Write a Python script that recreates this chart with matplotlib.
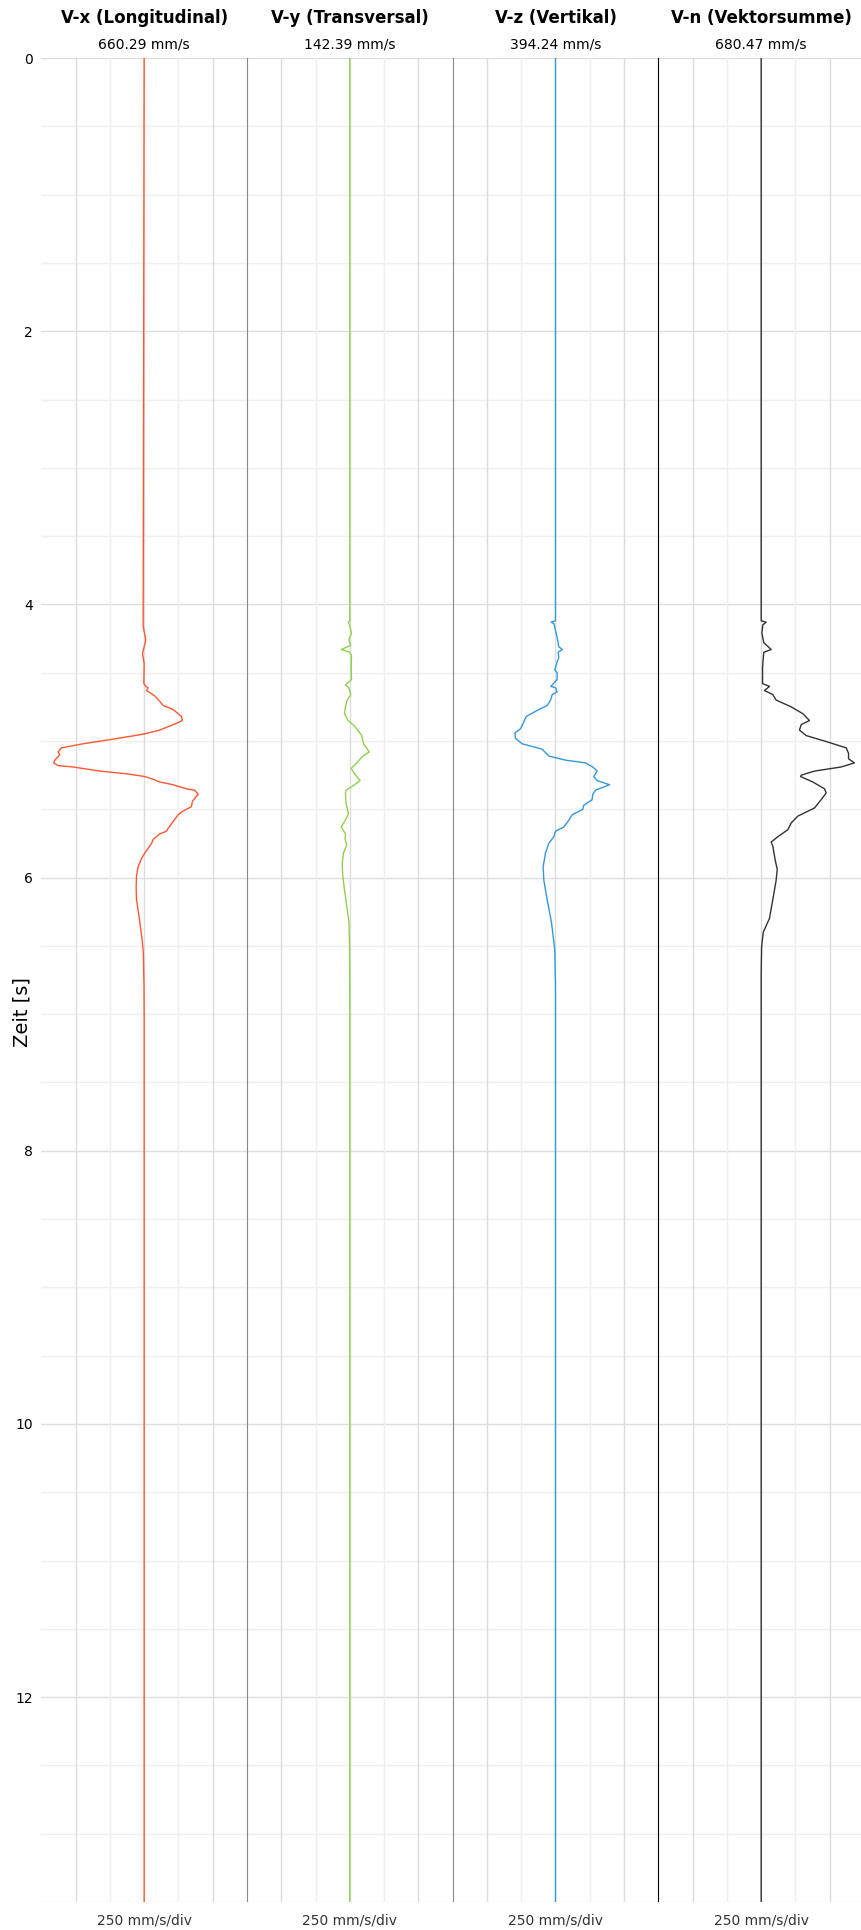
import matplotlib
matplotlib.use("Agg")
import matplotlib.pyplot as plt
import matplotlib.transforms as mtransforms
import numpy as np

# channel names, peak values and colours
titles = ["V-x (Longitudinal)", "V-y (Transversal)", "V-z (Vertikal)", "V-n (Vektorsumme)"]
peaks = ["660.29 mm/s", "142.39 mm/s", "394.24 mm/s", "680.47 mm/s"]
scale_labels = ["250 mm/s/div"] * 4
colors = ["#ff5733", "#8fd14f", "#3498db", "#333333"]

# traces (time [s], velocity [mm/s])
t_x = [0, 4.16, 4.26, 4.36, 4.43, 4.58, 4.60, 4.61, 4.63, 4.67, 4.71, 4.74, 4.77, 4.82, 4.85, 4.87,
       4.92, 4.95, 4.99, 5.02, 5.05, 5.08, 5.10, 5.14, 5.16, 5.18, 5.19, 5.22, 5.24, 5.26, 5.28, 5.30,
       5.32, 5.35, 5.36, 5.39, 5.42, 5.44, 5.48, 5.52, 5.54, 5.59, 5.64, 5.66, 5.68, 5.72, 5.75, 5.82,
       5.86, 5.92, 5.99, 6.07, 6.16, 6.30, 6.45, 6.55, 6.80, 7.00, 13.5]
v_x = [0, -7, 12, -12, 0, -2, 12, 29, 17, 78, 114, 139, 212, 272, 279, 236,
       114, -7, -250, -445, -603, -627, -615, -651, -660, -627, -518, -323, -128, 5, 66, 114,
       211, 309, 369, 394, 369, 352, 345, 272, 248, 211, 175, 163, 114, 66, 54, 5,
       -19, -44, -56, -58, -56, -35, -15, -6, -1, 0, 0]

t_y = [0, 4.12, 4.13, 4.15, 4.21, 4.26, 4.30, 4.33, 4.35, 4.37, 4.46, 4.55, 4.59, 4.61, 4.66, 4.70,
       4.75, 4.80, 4.85, 4.89, 4.96, 5.02, 5.08, 5.11, 5.16, 5.20, 5.24, 5.29, 5.32, 5.36, 5.38, 5.46,
       5.53, 5.57, 5.63, 5.68, 5.72, 5.76, 5.82, 5.90, 5.99, 6.09, 6.16, 6.33, 6.50, 6.70, 7.00, 13.5]
v_y = [0, 0, -12, -2, 12, -7, 7, -63, -2, 12, 10, 12, -32, -7, 7, -19,
       -32, -39, -12, 34, 87, 100, 142, 95, 51, 10, 34, 75, 34, -27, -32, -27,
       -10, -27, -63, -32, -34, -22, -46, -56, -51, -39, -29, -6, -2, -1, 0, 0]

t_z = [0, 4.12, 4.13, 4.14, 4.19, 4.24, 4.31, 4.33, 4.35, 4.39, 4.42, 4.48, 4.50, 4.55, 4.60, 4.61,
       4.64, 4.66, 4.70, 4.74, 4.77, 4.82, 4.86, 4.91, 4.94, 4.98, 5.02, 5.06, 5.09, 5.11, 5.14, 5.16,
       5.19, 5.22, 5.26, 5.29, 5.32, 5.36, 5.39, 5.43, 5.47, 5.50, 5.54, 5.58, 5.63, 5.66, 5.70, 5.75,
       5.82, 5.92, 6.02, 6.16, 6.33, 6.53, 6.80, 13.5]
v_z = [0, 0, -32, -12, 0, 12, 24, 49, 19, 24, 12, -5, 12, 12, -34, 0,
       12, -24, -36, -61, -122, -214, -231, -255, -296, -292, -243, -97, -68, -49, 73, 219,
       272, 304, 279, 304, 394, 292, 272, 267, 206, 199, 122, 97, 61, 0, -12, -49,
       -73, -90, -85, -61, -29, -5, 0, 0]

t_n = [0, 4.12, 4.13, 4.15, 4.21, 4.28, 4.33, 4.35, 4.46, 4.58, 4.60, 4.63, 4.66, 4.70, 4.75, 4.80,
       4.85, 4.88, 4.92, 4.96, 5.00, 5.05, 5.09, 5.13, 5.16, 5.19, 5.22, 5.25, 5.26, 5.30, 5.35, 5.38,
       5.43, 5.49, 5.55, 5.60, 5.65, 5.70, 5.74, 5.77, 5.87, 5.94, 6.02, 6.09, 6.16, 6.30, 6.40, 6.51,
       6.70, 13.5]
v_n = [0, 0, 36, 12, 5, 19, 73, 19, 10, 10, 61, 24, 85, 109, 219, 304,
       352, 292, 279, 328, 462, 620, 637, 637, 680, 583, 389, 292, 287, 377, 462, 474,
       437, 389, 267, 219, 194, 122, 73, 85, 102, 117, 109, 97, 85, 60, 15, 3,
       0, 0]

times = [t_x, t_y, t_z, t_n]
values = [v_x, v_y, v_z, v_n]

div = 250.0      # mm/s per division
lane = 6         # divisions per channel
t_max = 13.5

fig = plt.figure(figsize=(8.62, 19.3), dpi=100)
ax = fig.add_axes([41.3 / 862, 1 - 1902 / 1930, 1 - 41.3 / 862, (1902 - 58.1) / 1930])

# grid
for t in np.arange(0, t_max + 0.01, 0.5):
    major = abs(t % 2) < 1e-6
    ax.axhline(t, color="#dddddd" if major else "#efefef", lw=1.0, zorder=0)
x_right = (862 - 41.3) / 34.28
for xg in range(1, 24):
    if xg % lane == 0:
        continue
    ax.axvline(xg, color="#dcdcdc" if xg % 2 == 1 else "#efefef", lw=1.0, zorder=0)

# lane separators
ax.axvline(6, color="#888888", lw=0.8, zorder=1)
ax.axvline(12, color="#888888", lw=0.8, zorder=1)
ax.axvline(18, color="#000000", lw=0.8, zorder=1)

trans = mtransforms.blended_transform_factory(ax.transData, fig.transFigure)
for i in range(4):
    center = i * lane + lane / 2
    ax.plot(center + np.array(values[i]) / div, times[i], color=colors[i], lw=1.0,
            solid_joinstyle="round", zorder=3)
    ax.text(center, 1 - 18 / 1930, titles[i], transform=trans, ha="center", va="center",
            fontsize=12, fontweight="bold")
    ax.text(center, 1 - 45 / 1930, peaks[i], transform=trans, ha="center", va="center",
            fontsize=10)
    ax.text(center, 1 - 1921 / 1930, scale_labels[i], transform=trans, ha="center", va="center",
            fontsize=10, color="#333333")

ax.set_xlim(0, x_right)
ax.set_ylim(t_max, 0)
ax.set_yticks(np.arange(0, 13, 2))
ax.set_yticklabels([str(v) for v in range(0, 13, 2)])
ax.set_xticks([])
ax.tick_params(axis="y", length=0, pad=6, labelsize=10)
for s in ax.spines.values():
    s.set_visible(False)

fig.text(21.7 / 862, 1 - 1012 / 1930, "Zeit [s]", rotation=90, ha="center", va="center", fontsize=14)

fig.savefig("out.png", dpi=100)
